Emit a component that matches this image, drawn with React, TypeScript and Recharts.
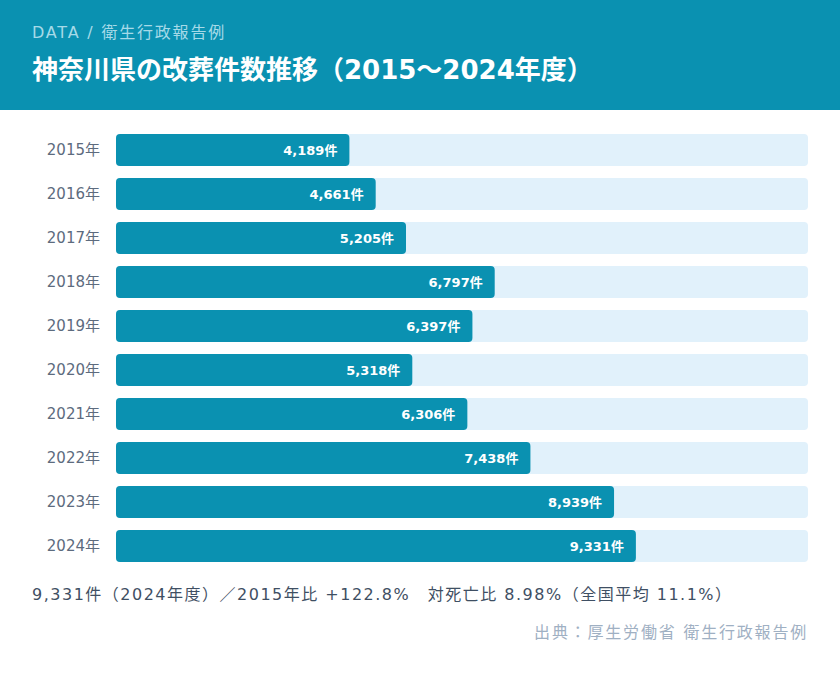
import { BarChart, Bar, XAxis, YAxis, LabelList } from 'recharts';

const years = ['2015年', '2016年', '2017年', '2018年', '2019年', '2020年', '2021年', '2022年', '2023年', '2024年'];
const funerals = [4189, 4661, 5205, 6797, 6397, 5318, 6306, 7438, 8939, 9331];
const domainMax = 12420;

const data = years.map((y, i) => ({ year: y, value: funerals[i] }));

const FONT = '"DejaVu Sans", "Noto Sans CJK JP", sans-serif';

const renderValue = (props: any) => {
  const { x, y, width, height, value } = props;
  return (
    <text
      x={x + width - 12}
      y={y + height / 2}
      textAnchor="end"
      dominantBaseline="central"
      fill="#ffffff"
      fontSize={13}
      fontWeight="bold"
      fontFamily='"DejaVu Sans", "Noto Sans CJK JP", sans-serif'
    >
      {value.toLocaleString('en-US')}件
    </text>
  );
};

export default function App() {
  return (
    <div style={{ position: 'absolute', left: 0, top: 0, width: 840, height: 676, background: '#ffffff', fontFamily: FONT, overflow: 'hidden' }}>
      <div style={{ height: 110, background: '#0a91b1', position: 'relative' }}>
        <div style={{ position: 'absolute', left: 32, top: 22, fontSize: 16, color: '#a6dae8', letterSpacing: 1.8, lineHeight: '22px' }}>DATA / 衛生行政報告例</div>
        <div style={{ position: 'absolute', left: 32, top: 53, fontSize: 26, fontWeight: 'bold', color: '#ffffff', lineHeight: '34px', whiteSpace: 'nowrap' }}>
          神奈川県の改葬件数推移（2015〜2024年度）
        </div>
      </div>
      <div style={{ position: 'absolute', left: 0, top: 128 }}>
        <BarChart
          layout="vertical"
          width={840}
          height={440}
          data={data}
          margin={{ top: 0, right: 32, bottom: 0, left: 0 }}
          barSize={32}
        >
          <XAxis type="number" hide domain={[0, domainMax]} />
          <YAxis
            type="category"
            dataKey="year"
            width={116}
            axisLine={false}
            tickLine={false}
            tickSize={0}
            tickMargin={16}
            tick={{ fill: '#5d6b7e', fontSize: 15, fontFamily: FONT }}
          />
          <Bar
            dataKey="value"
            fill="#0a91b1"
            radius={4}
            background={{ fill: '#e1f1fb', radius: 4 }}
            isAnimationActive={false}
          >
            <LabelList dataKey="value" content={renderValue} />
          </Bar>
        </BarChart>
      </div>
      <div style={{ position: 'absolute', left: 32, top: 584, fontSize: 16, color: '#3f4f63', letterSpacing: 1.5, lineHeight: '22px', whiteSpace: 'nowrap' }}>
        9,331件（2024年度）／2015年比 +122.8%　対死亡比 8.98%（全国平均 11.1%）
      </div>
      <div style={{ position: 'absolute', right: 32, top: 622, fontSize: 16, color: '#9fb0c3', letterSpacing: 1.8, lineHeight: '22px', whiteSpace: 'nowrap' }}>
        出典：厚生労働省 衛生行政報告例
      </div>
    </div>
  );
}
